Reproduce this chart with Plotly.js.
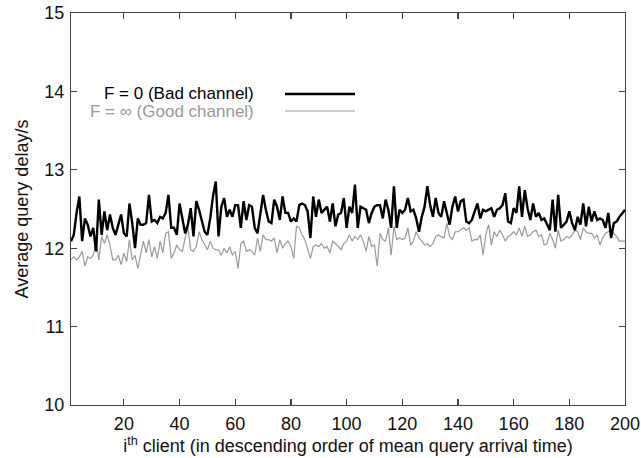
<!DOCTYPE html>
<html>
<head>
<meta charset="utf-8">
<script src="https://cdn.plot.ly/plotly-3.0.1.min.js"></script>
<style>html,body{margin:0;padding:0;background:#fff;}#chart{width:641px;height:458px;}</style>
</head>
<body>
<div id="chart"></div>
<script>
const badLabel = "F = 0 (Bad channel)";
const goodLabel = "F = \u221e (Good channel)";
const xTicks = [20, 40, 60, 80, 100, 120, 140, 160, 180, 200];
const yTicks = [10, 11, 12, 13, 14, 15];

const badChannel = [
  12.09,12.17,12.45,12.66,12.09,12.38,12.30,12.15,12.26,11.96,
  12.62,12.17,12.47,12.23,12.43,12.26,12.17,12.32,12.43,12.19,
  12.15,12.57,12.32,12.00,12.38,12.30,12.30,12.32,12.68,12.34,
  12.36,12.32,12.40,12.38,12.45,12.68,12.26,12.26,12.17,12.57,
  12.36,12.19,12.30,12.51,12.15,12.60,12.49,12.34,12.21,12.17,
  12.38,12.66,12.85,12.15,12.53,12.64,12.40,12.49,12.40,12.55,
  12.55,12.26,12.60,12.36,12.55,12.53,12.26,
  12.19,12.43,12.68,12.49,12.34,12.32,12.62,12.53,12.36,12.66,
  12.45,12.45,12.34,12.38,12.34,12.55,12.57,12.55,12.47,12.13,
  12.66,12.40,12.62,12.45,12.49,12.53,12.34,12.57,12.28,12.43,
  12.45,12.64,12.26,12.53,12.45,12.81,12.26,12.53,12.51,12.49,
  12.32,12.45,12.53,12.55,12.55,12.38,12.62,12.49,12.26,12.79,
  12.26,12.49,12.45,12.49,12.64,12.47,12.49,12.38,12.21,12.40,
  12.53,12.79,12.55,12.40,12.64,12.45,12.40,12.60,
  12.45,12.30,12.53,12.66,12.47,12.60,12.62,12.34,12.32,12.36,
  12.47,12.57,12.38,12.49,12.47,12.49,12.51,12.40,12.49,12.51,
  12.55,12.70,12.34,12.32,12.51,12.45,12.79,12.40,12.74,12.51,
  12.36,12.57,12.40,12.45,12.36,12.38,12.30,12.23,12.62,12.21,
  12.68,12.26,12.30,12.34,12.47,12.32,12.23,12.40,12.30,12.57,
  12.28,12.53,12.34,12.47,12.36,12.38,12.36,12.26,12.45,12.13,
  12.32,12.34,12.40,12.45,12.49
];

const goodChannel = [
  11.85,11.89,11.85,11.89,11.96,11.77,11.89,11.87,11.91,12.09,
  11.85,12.15,12.06,12.17,12.04,11.85,11.85,11.91,11.79,11.94,
  11.83,12.11,11.85,11.91,11.74,11.91,12.09,11.94,12.11,11.89,
  12.02,11.87,12.09,11.94,12.19,12.21,11.87,11.94,12.04,11.98,
  11.96,12.13,12.26,11.98,11.96,12.02,12.21,12.11,12.04,11.98,
  12.09,12.00,11.98,11.98,11.91,12.00,11.94,12.02,11.91,11.96,
  11.74,12.06,12.09,11.96,11.98,11.96,11.91,
  12.13,11.96,12.17,12.11,12.11,12.09,12.13,11.94,12.11,12.00,
  12.06,12.09,12.02,11.87,12.28,12.26,12.17,12.11,11.98,11.87,
  12.02,12.04,12.02,12.06,12.00,12.02,11.94,12.09,12.06,12.02,
  11.98,12.06,12.09,12.17,12.09,12.15,12.11,12.17,12.09,11.96,
  12.15,12.02,12.04,11.77,12.19,12.11,12.09,12.26,11.91,12.28,
  12.11,12.13,12.11,12.13,12.26,12.04,12.09,12.21,12.13,12.09,
  12.04,12.06,12.02,12.06,12.15,12.17,12.15,12.13,
  12.32,12.15,12.11,12.21,12.21,12.23,12.26,12.23,12.26,12.09,
  12.11,12.11,12.17,11.91,12.17,12.30,12.04,12.21,12.15,12.23,
  12.17,12.09,12.15,12.17,12.21,12.17,12.26,12.15,12.28,12.15,
  12.17,12.21,12.23,12.15,12.17,12.04,12.06,12.19,12.11,12.00,
  12.23,12.09,12.11,12.15,12.13,12.17,12.23,12.21,12.11,12.26,
  12.21,12.19,12.19,12.13,12.17,12.04,12.13,12.19,12.21,12.23,
  12.19,12.15,12.09,12.09,12.09
];

const clients = badChannel.map((_, i) => i + 1);

const font = "Liberation Sans, Arial, Helvetica, sans-serif";
const fs = 18;
const legendFs = 17;

const traces = [
  {x: clients, y: goodChannel, type: "scatter", mode: "lines", name: goodLabel,
   line: {color: "#9a9a9a", width: 1.2}, showlegend: false},
  {x: clients, y: badChannel, type: "scatter", mode: "lines", name: badLabel,
   line: {color: "#000000", width: 2.4}, showlegend: false}
];

const axisCommon = {
  showline: true, linecolor: "#444", linewidth: 1.2, mirror: "allticks",
  ticks: "inside", ticklen: 6, tickcolor: "#444", tickwidth: 1.2,
  showgrid: false, zeroline: false,
  tickfont: {family: font, size: fs, color: "#111"}
};

const layout = {
  width: 641, height: 458,
  margin: {l: 71, r: 16, t: 13, b: 53},
  paper_bgcolor: "#fff", plot_bgcolor: "#fff",
  font: {family: font, color: "#111"},
  xaxis: Object.assign({}, axisCommon, {
    range: [1, 200], tickmode: "array", tickvals: xTicks, ticktext: xTicks.map(String),
    ticklabelstandoff: 2,
    title: {text: "i<sup>th</sup> client (in descending order of mean query arrival time)",
            font: {family: font, size: fs, color: "#111"}, standoff: 4}
  }),
  yaxis: Object.assign({}, axisCommon, {
    range: [10, 15], tickmode: "array", tickvals: yTicks, ticktext: yTicks.map(String),
    ticklabelstandoff: 2,
    title: {text: "Average query delay/s", font: {family: font, size: fs, color: "#111"}, standoff: 10}
  }),
  annotations: [
    {xref: "paper", yref: "paper", x: (256 - 71) / 554, y: (405 - 93) / 392, xanchor: "right", yanchor: "middle",
     text: badLabel, showarrow: false, font: {family: font, size: legendFs, color: "#000"}},
    {xref: "paper", yref: "paper", x: (256 - 71) / 554, y: (405 - 112) / 392, xanchor: "right", yanchor: "middle",
     text: goodLabel, showarrow: false, font: {family: font, size: legendFs, color: "#999"}}
  ],
  shapes: [
    {type: "line", xref: "paper", yref: "paper", x0: (285 - 71) / 554, x1: (355 - 71) / 554,
     y0: (405 - 94) / 392, y1: (405 - 94) / 392, line: {color: "#000", width: 2.4}},
    {type: "line", xref: "paper", yref: "paper", x0: (285 - 71) / 554, x1: (355 - 71) / 554,
     y0: (405 - 111) / 392, y1: (405 - 111) / 392, line: {color: "#9a9a9a", width: 1.2}}
  ]
};

Plotly.newPlot("chart", traces, layout, {displayModeBar: false, staticPlot: true});
</script>
</body>
</html>
